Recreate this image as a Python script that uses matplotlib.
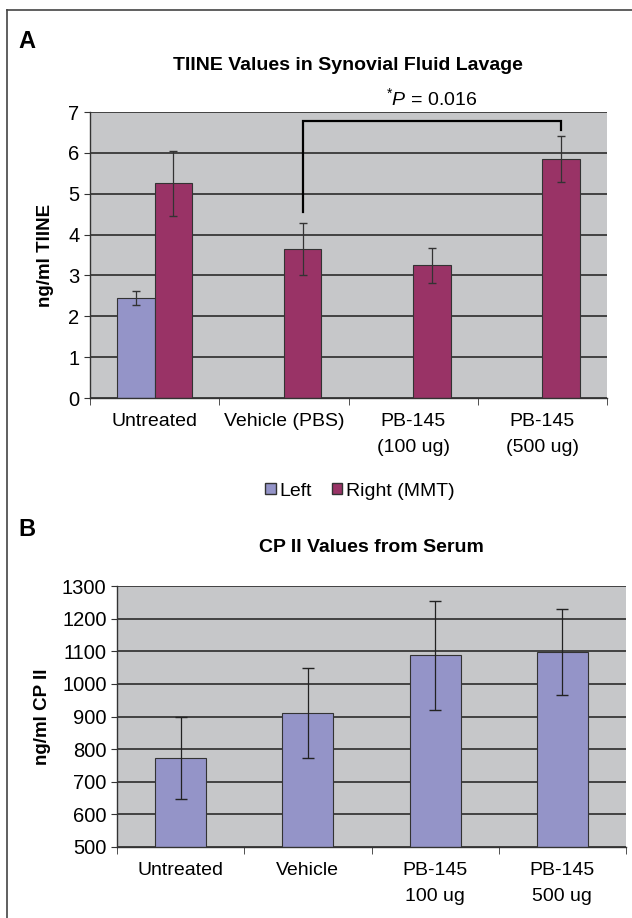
import matplotlib
matplotlib.use("Agg")
import matplotlib.pyplot as plt
import numpy as np
from matplotlib.lines import Line2D
from matplotlib.patches import Patch

plt.rcParams['font.family'] = ['Liberation Sans', 'DejaVu Sans']
plt.rcParams['mathtext.fontset'] = 'custom'
plt.rcParams['mathtext.rm'] = 'Liberation Sans'
plt.rcParams['mathtext.it'] = 'Liberation Sans:italic'

# ---------------------------------------------------------------------------
# Data
# ---------------------------------------------------------------------------
a_labels = ['Untreated', 'Vehicle (PBS)', 'PB-145\n(100 ug)', 'PB-145\n(500 ug)']
a_left = [2.45, 0, 0, 0]
a_left_err = [0.18, 0, 0, 0]
a_right = [5.25, 3.65, 3.25, 5.85]
a_right_err = [0.80, 0.63, 0.43, 0.56]

b_labels = ['Untreated', 'Vehicle', 'PB-145\n100 ug', 'PB-145\n500 ug']
b_values = [772, 910, 1088, 1097]
b_err = [125, 138, 167, 132]

c_left = '#9494C8'
c_right = '#993366'
c_bg = '#C6C7C9'
c_grid = '#1E1E1E'

fig = plt.figure(figsize=(6.32, 9.18), dpi=100)

# outer frame (top and left only)
fig.add_artist(Line2D([7/632, 1.0], [1 - 10/918, 1 - 10/918], color='#444444', lw=1.2))
fig.add_artist(Line2D([7/632, 7/632], [0.0, 1 - 10/918], color='#444444', lw=1.2))


def style_axes(ax, n):
    ax.set_facecolor(c_bg)
    ax.set_axisbelow(True)
    ax.yaxis.grid(True, color=c_grid, lw=1.1)
    for s in ['top', 'right']:
        ax.spines[s].set_visible(False)
    for s in ['left', 'bottom']:
        ax.spines[s].set_color('#333333')
        ax.spines[s].set_linewidth(1.0)
    ax.set_xlim(-0.5, n - 0.5)
    ax.set_xticks(np.arange(n))
    ax.set_xticks(np.arange(n + 1) - 0.5, minor=True)
    ax.tick_params(axis='x', which='major', length=0, labelsize=14, pad=11)
    ax.tick_params(axis='x', which='minor', length=5, direction='out', color='#333333')
    ax.tick_params(axis='y', length=4, direction='out', color='#333333', labelsize=14.5)


# ---------------------------------------------------------------------------
# Panel A
# ---------------------------------------------------------------------------
axA = fig.add_axes([90/632, 1 - 398/918, 517/632, 286/918])
style_axes(axA, len(a_labels))
x = np.arange(len(a_labels))
w = 0.29
axA.bar(x - w/2, a_left, w, color=c_left, edgecolor='#333333', linewidth=0.8)
axA.bar(x + w/2, a_right, w, color=c_right, edgecolor='#333333', linewidth=0.8)
axA.errorbar(x[:1] - w/2, a_left[:1], yerr=a_left_err[:1], fmt='none',
             ecolor='#333333', elinewidth=0.9, capsize=3)
axA.errorbar(x + w/2, a_right, yerr=a_right_err, fmt='none',
             ecolor='#333333', elinewidth=0.9, capsize=3)
axA.set_ylim(0, 7)
axA.set_yticks(range(0, 8))
axA.set_xticklabels(a_labels, linespacing=1.65)
axA.set_ylabel('ng/ml TIINE', fontsize=13.5, fontweight='bold', labelpad=10)

# significance bracket between Vehicle and PB-145 (500 ug)
x1, x2 = x[1] + w/2, x[3] + w/2
axA.plot([x1, x1, x2, x2], [4.55, 6.78, 6.78, 6.56], color='black', lw=1.6,
         solid_joinstyle='miter', clip_on=False)
axA.text((x1 + x2) / 2, 7.08, r'$^{*}\mathit{P}$ = 0.016', ha='center', va='bottom',
         fontsize=14)

fig.text(348/632, 1 - 65/918, 'TIINE Values in Synovial Fluid Lavage',
         ha='center', va='center', fontsize=14, fontweight='bold')
fig.text(18/632, 1 - 42/918, 'A', ha='left', va='center', fontsize=17, fontweight='bold')

fig.legend(handles=[Patch(facecolor=c_left, edgecolor='#333333', label='Left'),
                    Patch(facecolor=c_right, edgecolor='#333333', label='Right (MMT)')],
           loc='center', bbox_to_anchor=(360/632, 1 - 491/918), ncol=2, frameon=False,
           fontsize=14, handlelength=0.55, handleheight=0.55, handletextpad=0.2,
           columnspacing=1.0)

# ---------------------------------------------------------------------------
# Panel B
# ---------------------------------------------------------------------------
axB = fig.add_axes([117/632, 1 - 847/918, 509/632, 261/918])
style_axes(axB, len(b_labels))
xb = np.arange(len(b_labels))
axB.bar(xb, b_values, 0.40, color=c_left, edgecolor='#333333', linewidth=0.8)
axB.errorbar(xb, b_values, yerr=b_err, fmt='none', ecolor='#222222',
             elinewidth=0.9, capsize=4)
axB.set_ylim(500, 1300)
axB.set_yticks(range(500, 1301, 100))
axB.set_xticklabels(b_labels, linespacing=1.65)
axB.set_ylabel('ng/ml CP II', fontsize=13.5, fontweight='bold', labelpad=8)

fig.text(371/632, 1 - 548/918, 'CP II Values from Serum',
         ha='center', va='center', fontsize=14, fontweight='bold')
fig.text(18/632, 1 - 530/918, 'B', ha='left', va='center', fontsize=17, fontweight='bold')

fig.savefig('out.png', dpi=100)
